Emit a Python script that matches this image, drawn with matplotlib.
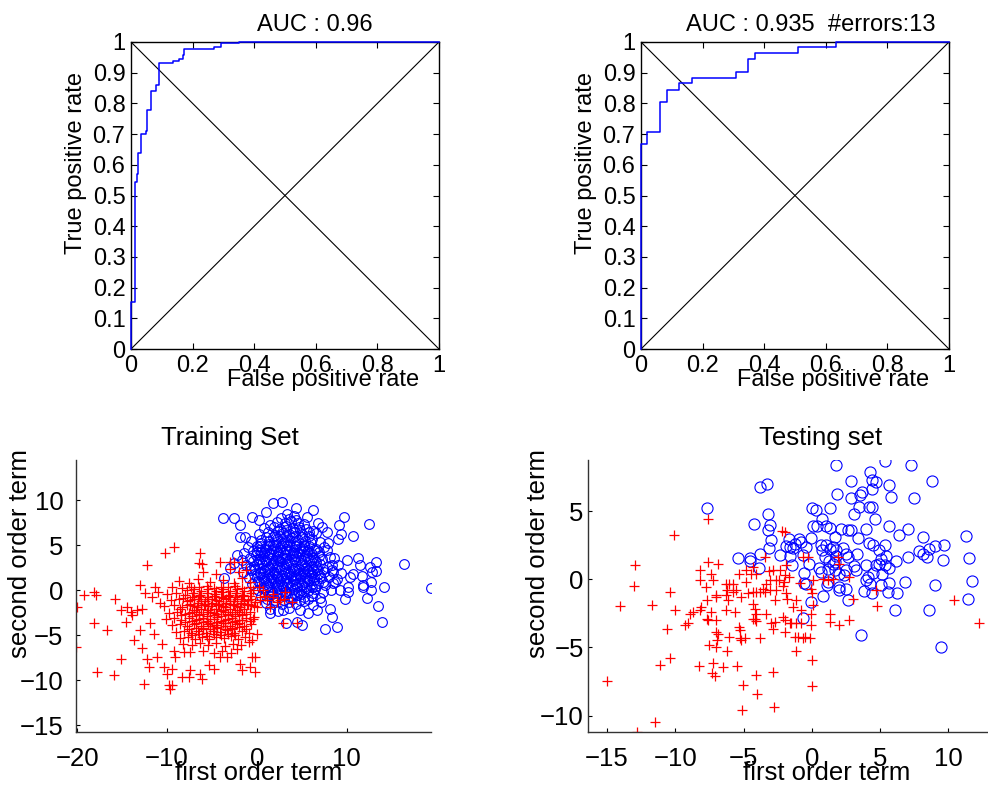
import numpy as np
import matplotlib
matplotlib.use('Agg')
import matplotlib.pyplot as plt

plt.rcParams['font.family'] = ['Liberation Sans', 'DejaVu Sans']

# ROC curves: fpr where the curve steps up, and the tpr it steps up to
roc_train_fpr = [0.0, 0.013, 0.018, 0.024, 0.032, 0.049, 0.053, 0.065, 0.080, 0.091,
                 0.137, 0.156, 0.168, 0.173, 0.270, 0.291, 0.350]
roc_train_tpr = [0.154, 0.545, 0.570, 0.640, 0.700, 0.711, 0.780, 0.841, 0.860, 0.930,
                 0.937, 0.946, 0.958, 0.977, 0.983, 0.996, 1.0]
auc_train = 0.96

roc_test_fpr = [0.0, 0.021, 0.062, 0.083, 0.124, 0.165, 0.308, 0.348, 0.370, 0.511, 0.633]
roc_test_tpr = [0.668, 0.707, 0.806, 0.844, 0.865, 0.884, 0.903, 0.944, 0.963, 0.983, 1.0]
auc_test = 0.935
n_errors = 13

# training set, class 1 (blue circles): (first order term, second order term)
train_pos = np.array([
    (19.37, 0.19), (16.37, 2.89), (14.15, 0.37), (14.0, -3.52), (13.52, -1.78), (13.26, 3.15),
    (13.33, 2.11), (12.78, 2.04), (12.48, 7.3), (12.6, 2.59), (11.3, 3.52), (11.48, 2.78),
    (11.67, 1.59), (11.85, 0.56), (12.67, 0.0), (12.67, 0.93), (12.3, -0.85), (11.78, 0.37),
    (10.67, 1.78), (10.37, 1.48), (10.19, 0.37), (10.19, -0.19), (9.81, -0.93), (9.26, 0.0),
    (10.0, 3.33), (10.67, 6.04), (9.74, 8.15), (9.19, 7.22), (9.33, 6.19), (9.07, 5.67),
    (8.33, 2.78), (8.15, 3.7), (7.96, 5.19), (7.78, 6.48), (8.52, 2.04), (8.7, 0.93),
    (8.15, -2.04), (8.33, -2.96), (8.96, -4.07), (7.59, -4.26), (6.67, -2.15), (6.22, 8.89),
    (4.37, 9.07), (2.78, 9.81), (1.78, 9.63), (1.0, 8.7), (-0.56, 8.15), (-2.59, 7.96),
    (-3.81, 7.96), (-1.85, 7.22), (0.19, 7.78), (-1.3, 5.93), (-1.93, 5.93), (-2.22, 3.89),
    (-2.59, 2.96), (5.0, -3.89), (4.44, -3.52), (3.26, -3.7), (2.96, -2.22), (1.48, -2.59),
    (5.56, 8.15), (7.22, 7.04), (6.85, 7.41), (-3.63, 1.3), (-2.96, 2.41),
    (2.3, 7.6), (3.1, 7.4), (3.8, 7.7), (4.6, 7.5), (5.2, 7.3), (1.5, 7.2), (2.7, 8.0), (4.1, 8.2), (3.4, 8.5),
    (0.8, 6.9), (1.9, 7.0), (2.6, 6.8), (3.3, 7.1), (4.0, 6.9), (4.7, 7.0), (5.5, 6.8), (6.3, 6.6),
    (0.2, 6.2), (1.2, 6.4), (2.0, 6.1), (2.9, 6.3), (3.6, 6.2), (4.3, 6.5), (5.0, 6.2), (5.8, 6.0), (6.6, 6.3),
    (-0.6, 5.4), (0.5, 5.6), (1.4, 5.5), (2.3, 5.7), (3.1, 5.5), (3.9, 5.8), (4.6, 5.6), (5.4, 5.4),
    (6.2, 5.7), (7.0, 5.3),
    (-1.0, 4.8), (0.0, 4.9), (0.9, 4.7), (1.8, 5.0), (2.6, 4.8), (3.4, 5.0), (4.2, 4.9), (5.0, 4.7),
    (5.8, 4.9), (6.6, 4.6), (7.5, 4.8),
    (-1.4, 4.1), (-0.4, 4.3), (0.5, 4.2), (1.3, 4.0), (2.1, 4.3), (2.9, 4.1), (3.7, 4.3), (4.5, 4.1),
    (5.3, 4.3), (6.1, 4.0), (6.9, 4.2), (7.8, 4.4),
    (-1.6, 3.4), (-0.8, 3.6), (0.1, 3.5), (0.9, 3.3), (1.7, 3.6), (2.5, 3.4), (3.3, 3.6), (4.1, 3.5),
    (4.9, 3.3), (5.7, 3.6), (6.5, 3.4), (7.3, 3.5), (8.6, 3.6),
    (-1.2, 2.8), (-0.3, 2.7), (0.6, 2.9), (1.4, 2.6), (2.2, 2.9), (3.0, 2.7), (3.8, 2.9), (4.6, 2.6),
    (5.4, 2.8), (6.2, 2.7), (7.0, 2.9), (7.8, 2.6), (9.0, 2.8),
    (-1.5, 2.0), (-0.6, 2.2), (0.3, 2.0), (1.1, 2.3), (1.9, 2.0), (2.7, 2.2), (3.5, 2.0), (4.3, 2.3),
    (5.1, 2.1), (5.9, 2.0), (6.7, 2.2), (7.5, 2.0), (8.4, 2.2), (9.4, 1.9),
    (-0.9, 1.4), (0.0, 1.5), (0.8, 1.3), (1.6, 1.5), (2.4, 1.3), (3.2, 1.5), (4.0, 1.4), (4.8, 1.6),
    (5.6, 1.3), (6.4, 1.5), (7.2, 1.3), (8.0, 1.5), (8.9, 1.2),
    (-0.5, 0.7), (0.4, 0.8), (1.2, 0.6), (2.0, 0.8), (2.8, 0.6), (3.6, 0.8), (4.4, 0.7), (5.2, 0.9),
    (6.0, 0.6), (6.8, 0.8), (7.6, 0.6), (8.5, 0.8),
    (0.1, 0.0), (0.9, 0.1), (1.7, -0.1), (2.5, 0.1), (3.3, -0.1), (4.1, 0.1), (4.9, 0.0), (5.7, -0.1),
    (6.5, 0.1), (7.4, -0.2), (8.3, 0.0),
    (0.5, -0.7), (1.3, -0.6), (2.1, -0.8), (2.9, -0.6), (3.7, -0.7), (4.5, -0.5), (5.3, -0.8),
    (6.1, -0.6), (7.0, -0.9),
    (1.0, -1.4), (1.9, -1.3), (2.8, -1.5), (3.6, -1.3), (4.4, -1.5), (5.3, -1.2), (6.3, -1.6), (7.2, -1.3),
    (1.5, -2.1), (2.4, -2.3), (3.6, -2.0), (4.8, -2.2), (5.7, -2.5),
    (0.5, 5.2), (1.3, 5.1), (2.1, 5.3), (2.9, 5.2), (3.7, 5.4), (4.4, 5.2), (5.2, 5.0),
    (0.2, 4.5), (1.0, 4.4), (1.8, 4.6), (2.6, 4.4), (3.3, 4.6), (4.1, 4.5), (4.9, 4.3), (5.7, 4.5),
    (-0.1, 3.9), (0.7, 3.8), (1.5, 4.0), (2.3, 3.8), (3.1, 3.9), (3.9, 3.8), (4.7, 4.0), (5.5, 3.8), (6.3, 3.7),
    (0.2, 3.1), (1.0, 3.2), (1.8, 3.0), (2.6, 3.2), (3.4, 3.1), (4.2, 3.2), (5.0, 3.0), (5.8, 3.2), (6.6, 3.1),
    (-0.2, 2.4), (0.7, 2.5), (1.5, 2.4), (2.3, 2.6), (3.1, 2.4), (3.9, 2.5), (4.7, 2.3), (5.5, 2.5), (6.3, 2.4),
    (0.4, 1.8), (1.2, 1.7), (2.0, 1.8), (2.8, 1.7), (3.6, 1.8), (4.4, 1.7), (5.2, 1.8), (6.0, 1.7), (6.8, 1.8),
    (0.8, 1.0), (1.6, 1.1), (2.4, 0.9), (3.2, 1.1), (4.0, 1.0), (4.8, 1.2), (5.6, 1.0), (6.4, 1.1),
    (1.3, 0.3), (2.1, 0.4), (2.9, 0.3), (3.7, 0.4), (4.5, 0.3), (5.3, 0.4), (6.1, 0.3),
    (1.7, -0.4), (2.5, -0.3), (3.3, -0.4), (4.1, -0.3), (4.9, -0.4),
    (2.4, 6.6), (3.2, 6.7), (4.0, 6.5), (4.8, 6.7), (3.6, 7.9), (4.4, 7.8),
    (1.0, 5.95), (1.8, 5.85), (2.6, 6.05), (3.4, 5.95), (4.2, 6.05), (5.0, 5.85), (5.8, 6.4),
    (0.4, 4.95), (1.2, 4.85), (2.0, 5.05), (2.8, 4.95), (3.6, 5.05), (4.4, 4.85), (5.2, 4.95), (6.0, 5.2),
    (0.0, 4.25), (0.8, 4.15), (1.6, 4.35), (2.4, 4.15), (3.2, 4.35), (4.0, 4.15), (4.8, 4.65), (5.6, 4.2),
    (6.4, 4.4),
    (-0.4, 3.25), (0.4, 3.45), (1.2, 3.65), (2.0, 3.35), (2.8, 3.55), (3.6, 3.25), (4.4, 3.75), (5.2, 3.55),
    (6.0, 3.35), (6.9, 3.8),
    (-0.8, 2.45), (0.0, 2.85), (0.9, 2.15), (1.7, 2.75), (2.5, 2.55), (3.3, 2.85), (4.1, 2.15), (4.9, 2.75),
    (5.7, 2.25), (6.6, 2.6), (7.4, 2.4),
    (-0.3, 1.75), (0.6, 1.45), (1.4, 1.95), (2.2, 1.55), (3.0, 1.95), (3.8, 1.55), (4.6, 1.95), (5.4, 1.55),
    (6.2, 1.95), (7.0, 1.6),
    (0.1, 1.05), (1.0, 0.85), (1.8, 1.25), (2.6, 1.05), (3.4, 0.65), (4.2, 1.25), (5.0, 0.55), (5.8, 1.15),
    (6.6, 0.45), (7.4, 0.95),
    (0.6, 0.25), (1.5, -0.2), (2.3, 0.55), (3.1, -0.25), (3.9, 0.55), (4.7, -0.2), (5.5, 0.25), (6.3, -0.3),
    (1.1, -0.95), (2.0, -1.05), (3.0, -1.1), (3.9, -0.95), (4.8, -1.05), (5.7, -0.95),
])

# training set, class 2 (red crosses)
train_neg = np.array([
    (-20.0, -1.85), (-20.19, -6.3), (-19.26, -0.56), (-18.15, -0.19), (-17.96, -0.56), (-18.15, -3.7),
    (-17.78, -9.07), (-16.74, -4.44), (-15.93, -9.44), (-15.81, -0.93), (-15.11, -7.59), (-15.11, -2.15),
    (-14.63, -3.52), (-14.44, -1.85), (-14.07, -2.41), (-13.89, -2.78), (-13.7, -5.56), (-13.33, -2.22),
    (-13.04, 0.56), (-13.04, -4.44), (-12.78, -6.37), (-12.52, -10.37), (-12.22, 2.78), (-12.22, -7.59),
    (-12.04, -8.52), (-12.78, -2.04), (-12.41, -0.37), (-11.85, -3.7), (-11.67, -0.74), (-11.48, -4.81),
    (-11.3, 0.37), (-11.11, -7.41), (-11.0, -0.19), (-10.74, -1.48), (-10.56, -5.93), (-10.37, -8.52),
    (-10.19, 4.07), (-10.0, -9.26), (-9.81, -10.56), (-9.63, -10.93), (-9.26, 4.81), (-9.44, -10.56),
    (-9.44, -8.7), (-9.07, -7.41), (-8.33, -9.63), (-8.15, -6.85), (-7.59, -9.63), (-7.41, -8.89),
    (-6.3, 4.07), (-6.48, 2.96), (-6.11, 2.89), (-6.3, -9.26), (-6.11, -9.81), (-5.37, -8.33),
    (-4.81, -8.7), (-4.07, 3.15), (-2.96, 3.15), (-2.59, 3.15), (-1.67, 3.15), (-1.85, -8.15),
    (-1.67, -8.89), (-0.74, -8.52), (-0.56, -7.41), (-0.19, -9.07), (-0.19, -7.41), (2.96, -3.7),
    (4.44, -3.7), (3.15, -0.19), (3.89, -1.3), (2.59, -1.11), (1.85, -0.74), (0.74, 0.0),
    (0.0, -1.85), (0.37, -0.74), (1.11, -1.11), (-0.37, -2.96), (0.0, -4.81), (-0.56, -5.56),
    (-2.22, -6.48), (-3.33, -7.41), (-4.07, -7.41),
    (-8.7, 1.0), (-7.6, 0.8), (-6.5, 1.2), (-5.2, 0.9), (-3.8, 1.1), (-2.5, 0.8), (-1.6, 1.3), (-0.8, 0.9),
    (-2.0, 2.0), (-1.2, 2.2), (-3.0, 2.4), (-4.5, 1.8), (-6.0, 2.0),
    (-9.5, 0.3), (-8.3, 0.2), (-7.3, 0.4), (-6.4, 0.3), (-5.6, 0.5), (-4.8, 0.2), (-4.0, 0.4), (-3.2, 0.3),
    (-2.4, 0.5), (-1.6, 0.2), (-0.8, 0.4), (0.2, 0.3),
    (-10.0, -0.4), (-9.0, -0.3), (-8.0, -0.5), (-7.1, -0.3), (-6.3, -0.5), (-5.5, -0.3), (-4.7, -0.4),
    (-3.9, -0.2), (-3.1, -0.5), (-2.3, -0.3), (-1.5, -0.5), (-0.7, -0.3), (0.9, -0.6), (1.8, -0.4),
    (-9.6, -1.1), (-8.7, -1.0), (-7.8, -1.2), (-7.0, -1.0), (-6.2, -1.2), (-5.4, -1.0), (-4.6, -1.1),
    (-3.8, -0.9), (-3.0, -1.2), (-2.2, -1.0), (-1.4, -1.2), (-0.6, -1.0), (0.4, -1.1), (2.2, -1.3), (3.0, -1.0),
    (-10.3, -1.8), (-9.2, -1.7), (-8.3, -1.9), (-7.5, -1.7), (-6.7, -1.9), (-5.9, -1.7), (-5.1, -1.8),
    (-4.3, -1.6), (-3.5, -1.9), (-2.7, -1.7), (-1.9, -1.9), (-1.1, -1.7), (-0.3, -1.8), (1.5, -1.9),
    (-9.8, -2.5), (-8.9, -2.4), (-8.0, -2.6), (-7.2, -2.4), (-6.4, -2.6), (-5.6, -2.4), (-4.8, -2.5),
    (-4.0, -2.3), (-3.2, -2.6), (-2.4, -2.4), (-1.6, -2.6), (-0.8, -2.4),
    (-10.1, -3.2), (-9.2, -3.1), (-8.4, -3.3), (-7.6, -3.1), (-6.8, -3.3), (-6.0, -3.1), (-5.2, -3.2),
    (-4.4, -3.0), (-3.6, -3.3), (-2.8, -3.1), (-2.0, -3.3), (-1.2, -3.1), (-0.4, -3.2),
    (-9.5, -3.9), (-8.6, -3.8), (-7.8, -4.0), (-7.0, -3.8), (-6.2, -4.0), (-5.4, -3.8), (-4.6, -3.9),
    (-3.8, -3.7), (-3.0, -4.0), (-2.2, -3.8), (-1.4, -4.0), (-0.6, -3.8),
    (-9.0, -4.6), (-8.1, -4.5), (-7.3, -4.7), (-6.5, -4.5), (-5.7, -4.7), (-4.9, -4.5), (-4.1, -4.6),
    (-3.3, -4.4), (-2.5, -4.7), (-1.7, -4.5), (-0.9, -4.7),
    (-8.6, -5.3), (-7.7, -5.2), (-6.9, -5.4), (-6.1, -5.2), (-5.3, -5.4), (-4.5, -5.2), (-3.7, -5.3),
    (-2.9, -5.1), (-2.1, -5.4), (-1.3, -5.2),
    (-8.2, -6.0), (-7.2, -6.1), (-6.3, -5.9), (-5.4, -6.1), (-4.5, -5.9), (-3.6, -6.2), (-2.7, -6.0),
    (-1.8, -6.1), (-0.9, -5.8),
    (-9.2, -6.8), (-7.5, -6.9), (-6.0, -6.7), (-4.8, -7.0), (-3.9, -6.8), (-2.9, -7.0),
    (-7.2, -0.8), (-6.4, -0.7), (-5.6, -0.8), (-4.8, -0.7), (-4.0, -0.8), (-3.2, -0.7), (-2.4, -0.8),
    (-1.6, -0.7), (-0.8, -0.7),
    (-7.4, -1.5), (-6.6, -1.4), (-5.8, -1.5), (-5.0, -1.4), (-4.2, -1.5), (-3.4, -1.4), (-2.6, -1.5),
    (-1.8, -1.4), (-1.0, -1.5),
    (-7.0, -2.2), (-6.2, -2.1), (-5.4, -2.2), (-4.6, -2.1), (-3.8, -2.2), (-3.0, -2.1), (-2.2, -2.2), (-1.4, -2.1),
    (-7.2, -2.9), (-6.4, -2.8), (-5.6, -2.9), (-4.8, -2.8), (-4.0, -2.9), (-3.2, -2.8), (-2.4, -2.9), (-1.6, -2.8),
    (-6.8, -3.6), (-6.0, -3.5), (-5.2, -3.6), (-4.4, -3.5), (-3.6, -3.6), (-2.8, -3.5), (-2.0, -3.6),
    (-6.0, -4.2), (-5.2, -4.3), (-4.4, -4.2), (-3.6, -4.3), (-2.8, -4.2),
    (-7.8, 0.0), (-7.0, 0.15), (-6.2, -0.1), (-5.4, 0.1), (-4.6, -0.1), (-3.8, 0.1), (-3.0, -0.1),
    (-2.2, 0.1), (-1.4, -0.1), (-0.4, 0.0),
    (-8.2, -0.9), (-7.4, -1.1), (-6.6, -0.95), (-5.8, -1.15), (-5.0, -0.95), (-4.2, -1.2), (-3.4, -1.0),
    (-2.6, -1.2), (-1.8, -0.95), (-1.0, -1.1), (-0.2, -1.3),
    (-8.6, -2.1), (-7.8, -1.6), (-7.0, -1.75), (-6.2, -1.6), (-5.4, -1.75), (-4.6, -1.55), (-3.8, -1.75),
    (-3.0, -1.55), (-2.2, -1.75), (-1.4, -1.55), (-0.6, -1.6),
    (-8.4, -2.8), (-7.6, -2.55), (-6.8, -2.45), (-6.0, -2.65), (-5.2, -2.45), (-4.4, -2.65), (-3.6, -2.45),
    (-2.8, -2.65), (-2.0, -2.45), (-1.2, -2.6),
    (-8.0, -3.5), (-7.2, -3.45), (-6.4, -3.25), (-5.6, -3.45), (-4.8, -3.25), (-4.0, -3.45), (-3.2, -3.25),
    (-2.4, -3.45), (-1.6, -3.3), (-0.8, -3.45),
    (-7.6, -4.3), (-6.8, -4.15), (-6.0, -4.35), (-5.2, -4.0), (-4.4, -4.1), (-3.6, -4.0), (-2.8, -4.35),
    (-2.0, -4.1), (-1.2, -4.35),
    (-7.2, -5.0), (-6.4, -4.9), (-5.6, -5.05), (-4.8, -4.85), (-4.0, -5.0), (-3.2, -4.85), (-2.4, -5.0),
])

# testing set, class 1 (blue circles)
test_pos = np.array([
    (1.78, 8.39), (5.37, 8.71), (7.27, 8.39), (4.22, 7.85), (2.88, 7.2), (4.41, 7.29), (4.71, 7.12),
    (5.63, 6.93), (8.8, 7.24), (-3.83, 6.8), (-3.27, 7.0), (1.83, 6.27), (3.68, 6.39), (3.49, 6.15),
    (4.41, 6.63), (2.88, 5.98), (5.8, 6.07), (7.51, 5.95), (3.44, 5.29), (4.17, 5.34), (4.41, 5.29),
    (-7.68, 5.22), (0.0, 5.24), (0.32, 5.05), (1.34, 5.22), (-3.22, 4.76), (3.05, 4.76), (4.59, 4.39),
    (0.76, 4.44), (-4.27, 4.07), (-3.1, 3.95), (-3.22, 3.59), (0.07, 3.88), (0.37, 3.88), (1.0, 3.88),
    (1.29, 3.78), (2.15, 3.71), (2.63, 3.59), (2.88, 3.59), (3.98, 3.66), (5.68, 3.9), (7.02, 3.71),
    (6.37, 3.27), (-2.98, 2.85), (-1.71, 2.98), (-0.95, 2.98), (-0.05, 3.05), (1.71, 3.1), (3.37, 3.02),
    (8.17, 3.1), (-1.27, 2.61), (-0.78, 2.73), (0.68, 2.54), (1.05, 2.49), (1.54, 2.37), (2.27, 2.32),
    (4.17, 2.66), (4.46, 2.49), (5.32, 2.54), (7.88, 2.05), (8.56, 2.2), (8.98, 2.44), (9.71, 2.49),
    (11.29, 3.17), (-3.15, 2.32), (-1.93, 2.41), (-1.63, 2.37), (-1.39, 2.32), (-0.41, 2.37), (0.76, 2.12),
    (1.29, 2.24), (1.78, 2.17), (4.95, 2.17), (-3.83, 1.83), (-2.37, 1.8), (-1.59, 1.71), (-0.66, 1.76),
    (2.51, 1.83), (3.29, 1.83), (8.12, 1.83), (5.44, 1.71), (-5.41, 1.56), (-4.56, 1.56), (-4.51, 1.32),
    (0.93, 1.63), (1.73, 1.68), (2.63, 1.63), (5.07, 1.51), (7.02, 1.63), (8.44, 1.63), (11.49, 1.56),
    (1.24, 1.32), (1.54, 1.15), (1.66, 1.27), (6.17, 1.34), (9.63, 1.39), (-1.44, 1.02), (-0.24, 1.15),
    (4.95, 1.15), (5.32, 1.02), (4.71, 1.02), (-3.88, 0.85), (0.51, 0.85), (1.17, 0.78), (3.12, 0.95),
    (3.2, 0.71), (2.51, 0.66), (3.98, 1.02), (5.68, 0.83), (1.66, 0.66), (-0.61, 0.46), (0.68, 0.54),
    (2.0, 0.41), (2.34, 0.34), (4.46, 0.49), (5.15, 0.41), (4.1, 0.17), (3.95, -0.02), (1.17, -0.2),
    (6.85, -0.2), (11.73, -0.15), (-0.61, -0.27), (-0.46, -0.32), (4.22, -0.32), (5.68, -0.27),
    (5.07, -0.44), (9.05, -0.44), (1.1, -0.44), (2.0, -0.56), (2.51, -0.68), (3.85, -0.85), (4.41, -1.0),
    (5.56, -0.93), (6.22, -1.0), (2.02, -0.8), (0.8, -1.24), (2.63, -1.49), (-0.05, -1.66), (11.41, -1.41),
    (6.12, -2.27), (8.56, -2.22), (-0.66, -2.83), (3.61, -4.05), (9.46, -4.95),
])

# testing set, class 2 (red crosses)
test_neg = np.array([
    (12.27, -3.24), (10.44, -1.49), (4.76, -1.98), (4.71, -0.76), (2.71, 0.17), (2.71, -2.95),
    (2.0, -3.37), (1.29, -2.51), (1.29, -3.12), (3.0, -1.41), (1.9, 1.63), (2.02, 1.15), (0.8, 0.05),
    (1.17, -0.07), (0.07, -0.07), (0.0, -1.0), (-0.05, -2.51), (-0.05, -3.37), (-0.17, -4.34),
    (0.0, -5.93), (0.0, -7.83), (-0.66, 1.63), (-0.29, 1.63), (-0.9, -0.27), (-1.15, -1.54),
    (-0.78, -2.27), (-1.15, -3.24), (-0.78, -3.24), (-1.02, -4.22), (-1.27, -4.22), (-1.2, -5.24),
    (-1.88, 1.02), (-2.0, 0.29), (-2.07, -0.2), (-2.12, -0.51), (-1.88, -1.0), (-1.83, -1.41),
    (-2.17, 3.54), (-2.37, 0.66), (-2.41, -0.02), (-2.61, -0.8), (-2.73, -1.54), (-2.12, -2.76),
    (-2.0, -3.0), (-2.73, -3.12), (-1.51, -3.24), (-2.0, -3.85), (-2.98, -3.24), (-2.85, -3.61),
    (-3.1, -0.07), (-3.1, -0.8), (-3.34, -0.32), (-3.46, -0.93), (-3.59, -0.68), (-3.83, -0.93),
    (-3.46, 1.63), (-3.15, 0.61), (-4.07, 0.41), (-4.07, -0.93), (-4.32, -0.93), (-4.32, -1.78),
    (-4.2, -2.15), (-4.07, -2.51), (-4.32, -2.88), (-4.2, -2.88), (-3.34, -2.56), (-3.83, -4.34),
    (-4.12, -7.02), (-4.0, -8.41), (-2.85, -6.78), (-2.8, -9.39), (-5.1, -9.59), (-5.05, -7.76),
    (-4.8, 0.66), (-4.8, -0.2), (-4.68, -1.0), (-4.44, 0.41), (-5.34, 0.41), (-5.34, -3.49),
    (-5.29, -3.73), (-5.29, -4.34), (-5.17, -4.46), (-4.93, -4.34), (-5.46, -6.37), (-5.66, -2.39),
    (-5.54, -0.8), (-5.78, -0.32), (-6.27, -0.32), (-6.07, -0.32), (-6.22, -0.8), (-6.32, -1.17),
    (-6.15, -1.54), (-6.27, -2.27), (-6.07, -4.22), (-6.22, -5.24), (-6.51, -6.41), (-6.88, 1.1),
    (-7.05, -1.17), (-7.24, -0.07), (-7.0, -1.29), (-7.05, -2.95), (-7.0, -3.85), (-6.88, -3.98),
    (-6.95, -4.46), (-7.05, -5.0), (-7.12, -7.1), (-7.29, -6.9), (-7.24, -6.17), (-7.54, -4.83),
    (-7.37, -2.39), (-7.68, -2.88), (-7.61, -3.0), (-7.68, -1.54), (-7.37, 0.41), (-7.61, 1.27),
    (-7.73, -0.56), (-8.22, 0.66), (-8.22, -0.07), (-8.1, -2.02), (-8.22, -2.27), (-8.27, -6.34),
    (-8.71, -2.39), (-8.95, -2.51), (-9.07, -3.24), (-9.32, -3.37), (-10.05, -2.22), (-10.41, -0.93),
    (-10.12, 3.27), (-10.41, -5.8), (-10.61, -3.61), (-11.1, -6.29), (-11.51, -10.44), (-11.68, -1.9),
    (-12.98, 1.07), (-13.02, -0.51), (-12.8, -11.17), (-14.02, -1.98), (-14.98, -7.44), (-2.85, 0.66),
    (-2.61, -0.07), (-1.71, 0.17), (-1.39, -2.02), (-1.63, -3.24), (-0.54, -4.22), (-0.66, -4.34),
    (0.07, -1.9), (-4.32, 0.9), (-5.78, -0.93), (-5.17, -1.29), (-4.07, -3.05), (-0.05, -0.68),
    (1.54, 0.05), (-7.6, 4.4), (-2.0, 3.5),
])

fig = plt.figure(figsize=(9.88, 7.85), dpi=100)


def roc_panel(rect, fpr, tpr, title, title_x):
    ax = fig.add_axes(rect)
    xs = [0.0] + fpr + [1.0]
    ys = [0.0] + tpr + [tpr[-1]]
    ax.step(xs, ys, where='post', color='b', lw=1.1, zorder=3, clip_on=False)
    ax.plot([0, 1], [0, 1], 'k-', lw=0.8)
    ax.plot([0, 1], [1, 0], 'k-', lw=0.8)
    ax.set_xlim(0, 1); ax.set_ylim(0, 1)
    ax.set_xticks(np.arange(0, 1.01, 0.2))
    ax.set_xticklabels(['0', '0.2', '0.4', '0.6', '0.8', '1'])
    ax.set_yticks(np.arange(0, 1.01, 0.1))
    ax.set_yticklabels(['0', '0.1', '0.2', '0.3', '0.4', '0.5', '0.6', '0.7', '0.8', '0.9', '1'])
    ax.tick_params(direction='in', length=4, width=0.8, top=True, right=True,
                   labelsize=17, pad=4)
    for s in ax.spines.values():
        s.set_linewidth(1.0)
    ax.text(title_x, 1.055, title, transform=ax.transAxes, ha='center', va='center', fontsize=17)
    ax.set_xlabel('False positive rate', fontsize=17)
    ax.xaxis.set_label_coords(0.623, -0.10)
    ax.xaxis.label.set_va('center')
    ax.set_ylabel('True positive rate', fontsize=17)
    ax.yaxis.set_label_coords(-0.18, 0.606)
    ax.yaxis.label.set_va('center')
    return ax


roc_panel([0.1326, 0.5554, 0.3117, 0.3911], roc_train_fpr, roc_train_tpr,
          'AUC : %g' % auc_train, 0.597)
roc_panel([0.6488, 0.5554, 0.3117, 0.3911], roc_test_fpr, roc_test_tpr,
          'AUC : %g  #errors:%d' % (auc_test, n_errors), 0.55)


def scatter_panel(rect, pos, neg, title, title_x, xlim, ylim, xticks, yticks, ylab_x, xlab_x,
                  ms_o, ms_p, ypad):
    ax = fig.add_axes(rect)
    ax.plot(pos[:, 0], pos[:, 1], 'o', mfc='none', mec='b', ms=ms_o, mew=0.8)
    ax.plot(neg[:, 0], neg[:, 1], '+', color='r', ms=ms_p, mew=0.9)
    ax.set_xlim(*xlim); ax.set_ylim(*ylim)
    ax.set_xticks(xticks); ax.set_yticks(yticks)
    ax.spines['top'].set_visible(False)
    ax.spines['right'].set_visible(False)
    for s in ('left', 'bottom'):
        ax.spines[s].set_linewidth(1.0)
        ax.spines[s].set_color('#333333')
    ax.tick_params(direction='in', length=3, width=0.8, labelsize=18.5)
    ax.tick_params(axis='x', pad=11)
    ax.tick_params(axis='y', pad=ypad)
    ax.text(title_x, 1.081, title, transform=ax.transAxes, ha='center', va='center', fontsize=18.5)
    ax.set_xlabel('first order term', fontsize=18.5)
    ax.xaxis.set_label_coords(xlab_x, -0.151)
    ax.xaxis.label.set_va('center')
    ax.set_ylabel('second order term', fontsize=18.5)
    ax.yaxis.set_label_coords(ylab_x, 0.658)
    ax.yaxis.label.set_va('center')
    return ax


scatter_panel([0.0769, 0.0675, 0.3593, 0.3465], train_pos, train_neg, 'Training Set', 0.434,
              (-20.15, 19.4), (-15.74, 14.44), [-20, -10, 0, 10], [-15, -10, -5, 0, 5, 10],
              -0.158, 0.515, 7, 7, 9)
scatter_panel([0.5951, 0.0675, 0.416, 0.3465], test_pos, test_neg, 'Testing set', 0.567,
              (-16.4, 13.7), (-11.2, 8.75), [-15, -10, -5, 0, 5, 10], [-10, -5, 0, 5],
              -0.122, 0.582, 8, 6.5, 3)

fig.savefig('out.png', dpi=100)
